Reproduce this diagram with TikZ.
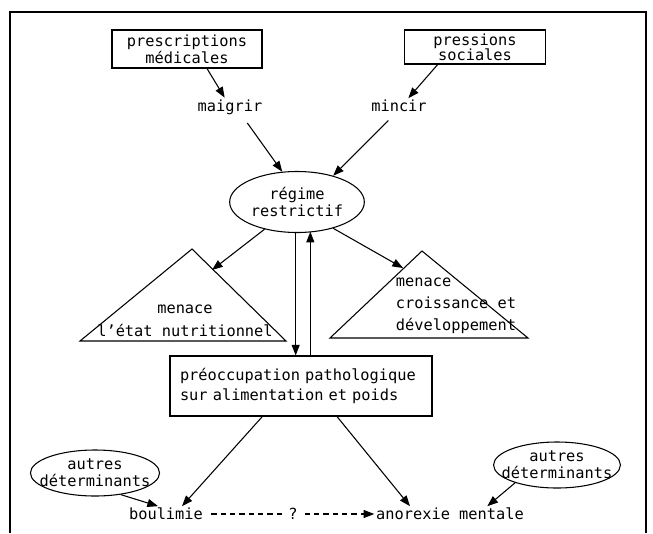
\documentclass[tikz,border=0pt]{standalone}
\usepackage{fontspec}
\setmainfont{DejaVu Sans Mono}
\usetikzlibrary{arrows.meta,shapes.geometric}

\tikzset{
  boite/.style={draw, align=center, inner sep=0pt},
  bulle/.style={draw, ellipse, align=center, inner sep=0pt},
  mot/.style={inner sep=1pt},
  fleche/.style={-{Triangle[length=8pt,width=6pt]}},
}

\begin{document}
\begin{tikzpicture}[x=0.75pt,y=-0.75pt,line width=0.8pt,font=\fontsize{11.5}{13}\selectfont]
        \useasboundingbox (0,0) rectangle (653,533);
        % cadre
        \draw (10,533) -- (10,12) -- (646,12) -- (646,533);

        \node[boite,minimum width=112.5pt,minimum height=28.5pt,font=\fontsize{11.5}{11.5}\selectfont] (presc) at (187,49) {prescriptions\\médicales};
        \node[boite,minimum width=105.75pt,minimum height=25.5pt,font=\fontsize{11.5}{11.5}\selectfont] (press) at (475,47) {pressions\\sociales};
        \node[mot] (maig) at (230,107) {maigrir};
        \node[mot] (minc) at (399,106) {mincir};
        \node[bulle,minimum width=101pt,minimum height=45.75pt] (regime) at (297,202) {régime\\restrictif};

        % triangles
        \draw (192,249) -- (286,341) -- (80,341) -- cycle;
        \draw (422,251) -- (528,338) -- (330,338) -- cycle;
        \coordinate (menG) at (212,270);
        \coordinate (menD) at (403,268);
        \node[align=center,font=\fontsize{11.5}{17}\selectfont] (etat) at (185,321) {menace\\l'état nutritionnel};
        \node[align=left,anchor=west,font=\fontsize{11.5}{16.5}\selectfont] (crois) at (391,306) {menace\\croissance et\\développement};

        \node[boite,minimum width=196.5pt,minimum height=45pt,text width=181.5pt,align=left,font=\fontsize{11.5}{15.5}\selectfont] (preocc) at (301,386) {préoccupation pathologique\\sur alimentation et poids};

        \node[bulle,inner xsep=-7.3pt,inner ysep=1.5pt,minimum height=34.5pt] (autG) at (95,473) {autres\\déterminants};
        \node[bulle,inner xsep=-7.9pt,inner ysep=1.5pt,minimum height=34.5pt] (autD) at (557,465) {autres\\déterminants};
        \node[mot] (boul) at (166,514) {boulimie};
        \node[mot] (anor) at (450,514) {anorexie mentale};

        \draw[fleche] ([xshift=15pt]presc.south) -- ([xshift=-4pt]maig.north);
        \draw[fleche] ([xshift=-28pt]press.south) -- ([xshift=7pt]minc.north);
        \draw[fleche] ([shift={(13pt,-5pt)}]maig.south) -- (regime.116);
        \draw[fleche] ([shift={(-8pt,-5pt)}]minc.south) -- (regime.36);
        \draw[fleche] (regime.220) -- (menG);
        \draw[fleche] (regime.-36) -- (menD);
        \draw[fleche] ([xshift=-1pt]regime.south) -- ([xshift=-1pt]regime.south |- preocc.north);
        \draw[fleche] ([xshift=10pt]regime.south |- preocc.north) -- ([xshift=10pt,yshift=1pt]regime.south);
        \draw[fleche] ([xshift=-29pt]preocc.south) -- ([xshift=12pt]boul.north);
        \draw[fleche] ([xshift=27pt]preocc.south) -- ([xshift=-30pt]anor.north);
        \draw[fleche] (autG.-40) -- ([xshift=-6pt]boul.north);
        \draw[fleche] (autD.203) -- ([xshift=28pt]anor.north);
        \draw[fleche,dash pattern=on 4pt off 3pt] ([xshift=5pt]boul.east) -- node[fill=white,inner sep=4pt]{?} (anor.west);
      \end{tikzpicture}
\end{document}
